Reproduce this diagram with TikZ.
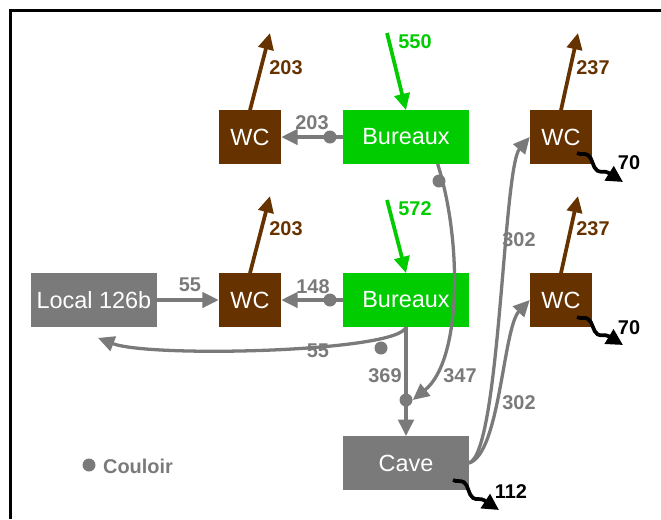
\documentclass[tikz,border=0pt]{standalone}
\usepackage{fontspec}
\setmainfont{Liberation Sans}
\usepackage{tikz}
\usetikzlibrary{arrows.meta,decorations.pathmorphing}
\definecolor{wcbrown}{RGB}{102,51,0}
\definecolor{offgreen}{RGB}{0,204,0}
\definecolor{corrgray}{RGB}{122,122,122}
\tikzstyle{room} = [rectangle, inner sep=0pt, minimum height=1.6cm, text=white, font=\fontsize{20}{24}\selectfont]
\tikzstyle{wc} = [room, fill=wcbrown, minimum width=1.86cm]
\tikzstyle{office} = [room, fill=offgreen, minimum width=3.75cm]
\tikzstyle{other} = [room, fill=corrgray, minimum width=3.75cm]
\tikzstyle{flow} = [line width=3.2pt, -{Triangle[length=14pt,width=13pt]}]
\tikzstyle{curvy} = [line width=2.8pt, -{Triangle[length=14pt,width=13pt]}]
\tikzstyle{leak} = [line width=3.2pt, -{Triangle[length=14pt,width=14pt]}, decorate,
  decoration={snake, amplitude=3.5pt, segment length=28pt, post length=13pt}]
\tikzstyle{num} = [inner sep=0pt, font=\bfseries\fontsize{17}{20}\selectfont]
\tikzstyle{dot} = [circle, fill=corrgray, minimum size=0.39cm, inner sep=0pt]

\begin{document}
\begin{tikzpicture}[x=0.03cm,y=-0.03cm]
\useasboundingbox (0,0) rectangle (661,519);
\draw[line width=2.3pt] (10.5,519) -- (10.5,10.5) -- (661,10.5);
% rooms
\node[wc] (wcA) at (250,137) {WC};
\node[office] (burA) at (406,137) {Bureaux};
\node[wc] (wcB) at (561,137) {WC};
\node[other] (local) at (94,300) {Local 126b};
\node[wc] (wcC) at (250,300) {WC};
\node[office] (burB) at (406,300) {Bureaux};
\node[wc] (wcD) at (561,300) {WC};
\node[other] (cave) at (406,463) {Cave};
% couloir
\node[dot] (jA) at (330,137) {};
\node[dot] (jB) at (330,300) {};
\node[dot] (jC) at (381,348) {};
\node[dot] (jD) at (406,400) {};
\node[dot] (jE) at (439,181) {};
\coordinate (outA) at (270,33);
\coordinate (outB) at (578,33);
\coordinate (outC) at (270,196);
\coordinate (outD) at (578,196);
\coordinate (inA) at (387,33);
\coordinate (inB) at (387,200);
\coordinate (leakB) at (577,153);
\coordinate (sinkB) at (623,182);
\coordinate (leakD) at (577,317);
\coordinate (sinkD) at (623,345);
\coordinate (leakC) at (453,480);
\coordinate (sinkC) at (499,510);
% supply and extract
\draw[flow, offgreen] (inA) -- (burA.north);
\draw[flow, offgreen] (inB) -- (burB.north);
\draw[flow, wcbrown] (wcA.north) -- (outA);
\draw[flow, wcbrown] (wcB.north) -- (outB);
\draw[flow, wcbrown] (wcC.north) -- (outC);
\draw[flow, wcbrown] (wcD.north) -- (outD);
% transfers
\draw[flow, corrgray] (burA.west) -- (wcA.east);
\draw[flow, corrgray] (burB.west) -- (wcC.east);
\draw[flow, corrgray] (local.east) -- (wcC.west);
\draw[flow, corrgray] (burB.south) -- (cave.north);
\draw[curvy, corrgray] (burB.south) .. controls (400,352) and (150,358) .. ([shift={(4,11)}]local.south);
\draw[curvy, corrgray] ([xshift=27]burA.south) .. controls (462,240) and (462,360) .. (jD.east);
\draw[curvy, corrgray] (cave.east) .. controls (500,455) and (503,168) .. (wcB.west);
\draw[curvy, corrgray] (cave.east) .. controls (500,455) and (503,328) .. (wcD.west);
\draw[leak] (leakB) -- (sinkB);
\draw[leak] (leakD) -- (sinkD);
\draw[leak] (leakC) -- (sinkC);
% flow rates
\node[num, text=offgreen] (qA) at (415,42) {550};
\node[num, text=offgreen] (qB) at (415,209) {572};
\node[num, text=wcbrown] (qC) at (286,68) {203};
\node[num, text=wcbrown] (qD) at (593,68) {237};
\node[num, text=wcbrown] (qE) at (286,229) {203};
\node[num, text=wcbrown] (qF) at (593,229) {237};
\node[num, text=corrgray] (qG) at (312,123) {203};
\node[num, text=corrgray] (qH) at (313,287) {148};
\node[num, text=corrgray] (qI) at (190,285) {55};
\node[num, text=corrgray] (qJ) at (318,351) {55};
\node[num, text=corrgray] (qK) at (385,376) {369};
\node[num, text=corrgray] (qL) at (460,376) {347};
\node[num, text=corrgray] (qM) at (519,240) {302};
\node[num, text=corrgray] (qN) at (519,403) {302};
\node[num] (qO) at (629,163) {70};
\node[num] (qP) at (629,328) {70};
\node[num] (qQ) at (511,492) {112};
% legend
\node[dot] (key) at (89,465) {};
\node[num, text=corrgray] (keytext) at (138,466) {Couloir};
\end{tikzpicture}
\end{document}
